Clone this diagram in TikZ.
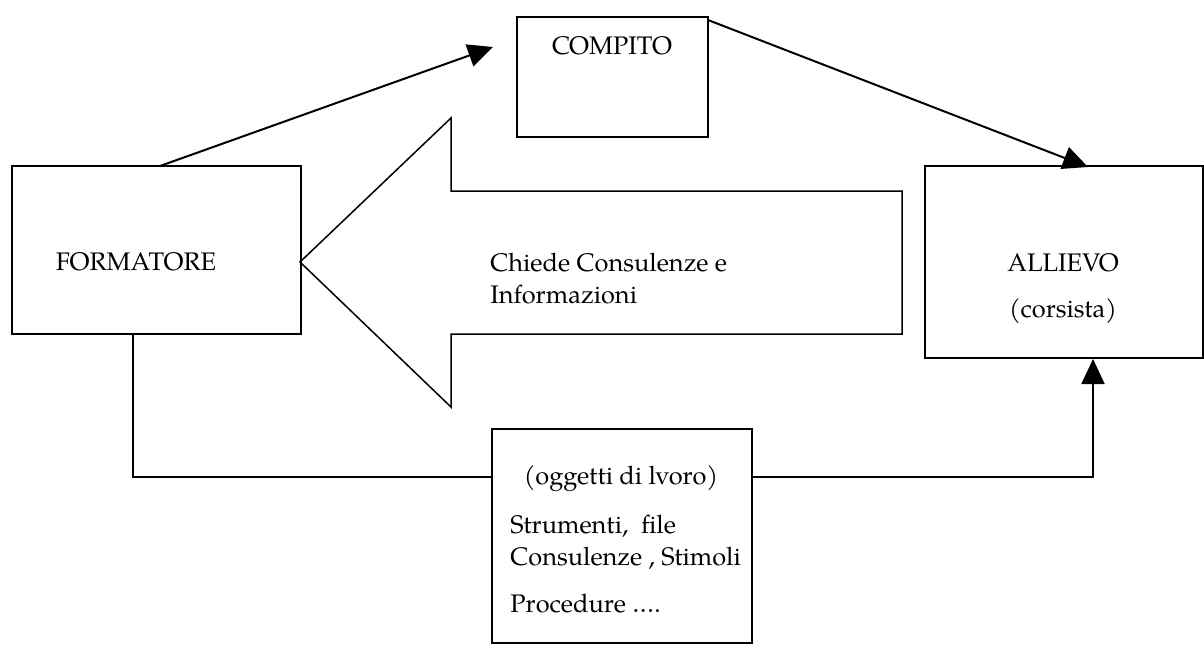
\documentclass[tikz,border=0pt]{standalone}
\usepackage{fontspec}
\setmainfont{TeX Gyre Pagella}
\usetikzlibrary{arrows.meta}
\begin{document}
\begin{tikzpicture}[x=0.5pt,y=-0.5pt,
  box/.style={draw, line width=1pt, inner sep=0pt},
  lbl/.style={font=\fontsize{12.7}{16.5}\selectfont, inner sep=0pt},
  conn/.style={line width=1pt, -{Triangle[length=12.5pt,width=11.5pt]}},
  bigarrow/.style={draw, line width=0.75pt, line join=miter},
  ]
\useasboundingbox (0,0) rectangle (1204,644);
% boxes
\node[box, minimum width=95.5pt, minimum height=60pt] (compito) at (612.5,77) {};
\node[box, minimum width=144.5pt, minimum height=84pt] (formatore) at (156.5,250) {};
\node[box, minimum width=139pt, minimum height=96pt] (allievo) at (1064,262) {};
\node[box, minimum width=130pt, minimum height=107pt] (oggetti) at (622,536) {};
% texts
\node[lbl, anchor=base] (tcompito) at (612,54) {COMPITO};
\node[lbl, anchor=base] (tformatore) at (136,270) {FORMATORE};
\node[lbl, anchor=base] (tallievo) at (1063,271) {ALLIEVO};
\node[lbl, anchor=base] (tcorsista) at (1063,317) {(corsista)};
\node[lbl, anchor=base west] (tchiede) at (490,271) {Chiede Consulenze e};
\node[lbl, anchor=base west] (tinfo) at (490,303) {Informazioni};
\node[lbl, anchor=base] (togg) at (621,484) {(oggetti di lvoro)};
\node[lbl, anchor=base west] (tstr) at (510,533) {Strumenti,\ \ file};
\node[lbl, anchor=base west] (tcons) at (510,565) {Consulenze , Stimoli};
\node[lbl, anchor=base west] (tproc) at (510,612) {Procedure ….};
% big hollow arrow
\draw[bigarrow] (902,191) -- (451,191) -- (451,118) -- (300,262) -- (451,407) -- (451,334) -- (902,334) -- cycle;
% connectors
\coordinate (f1) at (160,166);
\coordinate (c1) at (493,47);
\coordinate (c2) at (708,20);
\coordinate (a1) at (1088,167);
\draw[conn] (f1) -- (c1);
\draw[conn] (c2) -- (a1);
\draw[line width=1pt] (formatore.south -| 133,0) |- (oggetti.west |- 0,477);
\draw[conn] (oggetti.east |- 0,477) -| (allievo.south -| 1093,0);
\end{tikzpicture}
\end{document}
